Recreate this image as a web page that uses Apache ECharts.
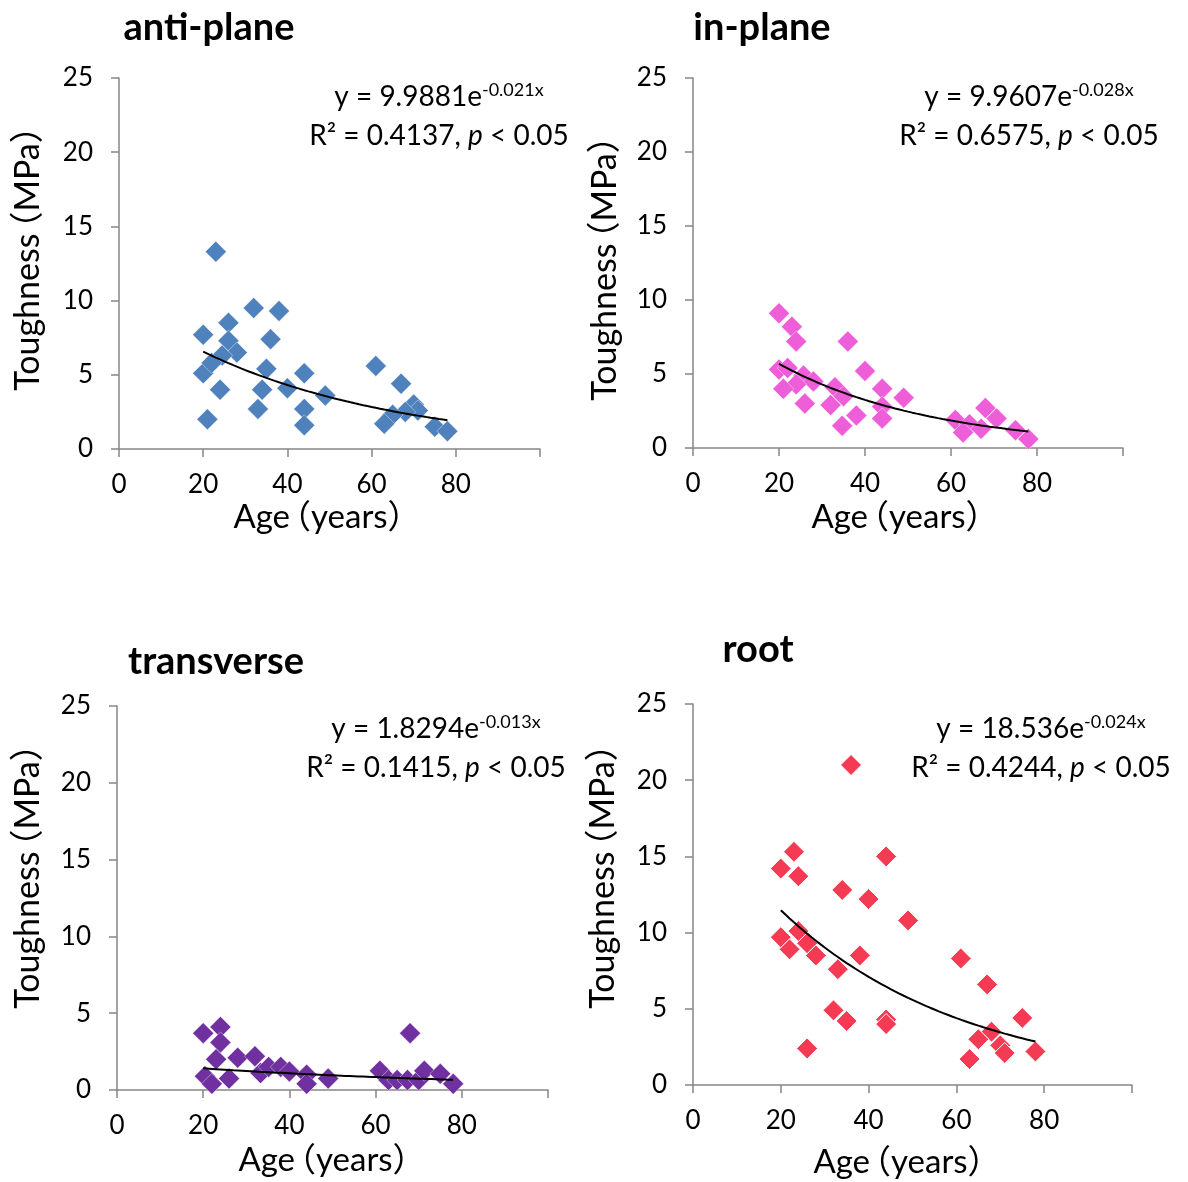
<!DOCTYPE html>
<html>
<head>
<meta charset="utf-8">
<script src="https://cdn.jsdelivr.net/npm/echarts@6/dist/echarts.min.js"></script>
<style>
  html, body { margin: 0; padding: 0; background: #fff; }
  #chart { width: 1188px; height: 1182px; }
</style>
</head>
<body>
<div id="chart"></div>
<script>
// Fracture toughness of dentin versus donor age, four orientations.
var panelTitles = ['anti-plane', 'in-plane', 'transverse', 'root'];
var panelColors = ['#4F81BD', '#EE5ED9', '#7030A0', '#F43B53'];

var antiPlaneAge = [23, 32, 38, 20, 26, 26, 36, 28, 24.5, 20, 22, 35, 44, 61, 67, 24, 34, 40, 49, 33, 44, 21, 44, 70, 71, 68, 65, 63, 75, 78];
var antiPlaneToughness = [13.3, 9.5, 9.3, 7.7, 8.5, 7.3, 7.4, 6.5, 6.3, 5.1, 5.8, 5.4, 5.1, 5.6, 4.4, 4.0, 4.0, 4.1, 3.6, 2.7, 2.7, 2.0, 1.6, 3.0, 2.6, 2.5, 2.3, 1.7, 1.5, 1.2];

var inPlaneAge = [20, 23, 24, 36, 20, 22, 40, 25.7, 28, 24, 21, 33, 35, 32, 26, 44, 49, 44, 38, 44, 34.7, 68, 70.6, 61, 64.3, 67, 62.8, 75, 78];
var inPlaneToughness = [9.1, 8.2, 7.2, 7.2, 5.3, 5.4, 5.2, 4.9, 4.5, 4.3, 4.0, 4.1, 3.5, 2.9, 3.0, 4.0, 3.4, 2.8, 2.2, 2.0, 1.5, 2.7, 2.0, 1.9, 1.6, 1.3, 1.05, 1.2, 0.6];

var transverseAge = [20, 24, 24, 23, 28, 32, 68, 20.4, 22, 26, 33.3, 35.2, 38, 40, 44, 44, 49, 61, 63, 65, 67.4, 70, 71.3, 75, 78];
var transverseToughness = [3.7, 4.1, 3.1, 2.0, 2.1, 2.2, 3.7, 0.9, 0.4, 0.75, 1.1, 1.5, 1.5, 1.2, 1.0, 0.4, 0.75, 1.25, 0.65, 0.65, 0.65, 0.65, 1.25, 1.05, 0.4];

var rootAge = [36, 23, 44, 20, 24, 34, 40, 49, 20, 24, 22, 26, 28, 38, 33, 61, 67, 32, 35, 44, 44, 75, 68, 65, 70, 71, 78, 26, 63];
var rootToughness = [21.0, 15.3, 15.0, 14.2, 13.7, 12.8, 12.2, 10.8, 9.7, 10.1, 8.9, 9.3, 8.5, 8.5, 7.6, 8.3, 6.6, 4.9, 4.2, 4.3, 4.0, 4.4, 3.5, 3.0, 2.6, 2.1, 2.2, 2.4, 1.7];

// Exponential fits y = a * exp(b * x), as printed on each panel
var fitA = [9.9881, 9.9607, 1.8294, 18.536];
var fitB = [-0.021, -0.028, -0.013, -0.024];
var fitR2 = ['0.4137', '0.6575', '0.1415', '0.4244'];
var fitAgeRange = [20, 78];

var xTickLabels = [0, 20, 40, 60, 80];

var ages = [antiPlaneAge, inPlaneAge, transverseAge, rootAge];
var tough = [antiPlaneToughness, inPlaneToughness, transverseToughness, rootToughness];

var FONT = 'Lato, "Noto Sans CJK SC", sans-serif';
var AXIS_GREY = '#868686';

var grids = [
  { left: 119, top: 78, width: 421, height: 371 },
  { left: 693, top: 78, width: 430, height: 370 },
  { left: 117, top: 706, width: 431, height: 384 },
  { left: 693, top: 704, width: 439, height: 381 }
];
// panel-level text anchors
var titlePos = [[209, 28], [762, 28], [216, 662], [758, 650]];
var yNamePos = [[28, 250], [605, 260], [28, 868], [603, 868]];
var xNamePos = [[327, 517], [905, 517], [332, 1160], [907, 1162]];
var eqPos = [[439, 97], [1029, 97], [436, 729], [1041, 729]];

function fitCurve(i) {
  var pts = [];
  for (var x = fitAgeRange[0]; x <= fitAgeRange[1]; x += 1) {
    pts.push([x, fitA[i] * Math.exp(fitB[i] * x)]);
  }
  return pts;
}

// axis title; the full-width opening bracket is pulled in towards the word before it
function axisTitle(word, inner, size) {
  var pull = -Math.round(size * 0.35);
  return {
    text: '{w|' + word + '}{p|（}{w|' + inner + '）}',
    align: 'center', verticalAlign: 'middle',
    rich: {
      w: { fontSize: size, fontFamily: FONT, color: '#000' },
      p: { fontSize: size, fontFamily: FONT, color: '#000', padding: [0, 0, 0, pull] }
    }
  };
}

var option = {
  animation: false,
  backgroundColor: '#fff',
  grid: grids,
  xAxis: [],
  yAxis: [],
  series: [],
  graphic: []
};

for (var i = 0; i < 4; i++) {
  option.xAxis.push({
    gridIndex: i, type: 'value', min: 0, max: 100, interval: 20,
    splitLine: { show: false },
    axisLine: { lineStyle: { color: AXIS_GREY, width: 1.5 } },
    axisTick: { show: true, length: 8, lineStyle: { color: AXIS_GREY, width: 1.5 } },
    axisLabel: {
      color: '#000', fontSize: 26, fontFamily: FONT, margin: 23,
      customValues: xTickLabels
    }
  });
  option.yAxis.push({
    gridIndex: i, type: 'value', min: 0, max: 25, interval: 5,
    splitLine: { show: false },
    axisLine: { show: true, lineStyle: { color: AXIS_GREY, width: 1.5 } },
    axisTick: { show: true, length: 8, lineStyle: { color: AXIS_GREY, width: 1.5 } },
    axisLabel: { color: '#000', fontSize: 26, fontFamily: FONT, margin: 26 }
  });

  var pts = ages[i].map(function (a, k) { return [a, tough[i][k]]; });
  option.series.push({
    type: 'scatter', xAxisIndex: i, yAxisIndex: i,
    symbol: 'diamond', symbolSize: 21,
    itemStyle: { color: panelColors[i], borderColor: '#fff', borderWidth: i === 3 ? 1 : 0.4, opacity: 1 },
    data: pts, z: 2
  });
  option.series.push({
    type: 'line', xAxisIndex: i, yAxisIndex: i,
    showSymbol: false, smooth: false,
    lineStyle: { color: '#000', width: 2 },
    data: fitCurve(i), z: 3
  });

  option.graphic.push({
    type: 'text', x: titlePos[i][0], y: titlePos[i][1],
    style: { text: panelTitles[i], font: 'bold 38px ' + FONT, fill: '#000', align: 'center', verticalAlign: 'middle' }
  });
  option.graphic.push({
    type: 'text', x: yNamePos[i][0], y: yNamePos[i][1], rotation: Math.PI / 2,
    style: axisTitle('Toughness', 'MPa', 34)
  });
  option.graphic.push({
    type: 'text', x: xNamePos[i][0], y: xNamePos[i][1],
    style: axisTitle('Age', 'years', 33)
  });
  var expTxt = (fitB[i] < 0 ? '-' : '') + Math.abs(fitB[i]).toFixed(3) + 'x';
  option.graphic.push({
    type: 'text', x: eqPos[i][0], y: eqPos[i][1],
    style: {
      text: '{n|y = ' + fitA[i] + 'e}{s|' + expTxt + '}',
      align: 'center', verticalAlign: 'middle',
      rich: {
        n: { fontSize: 28, fontFamily: FONT, color: '#000', lineHeight: 32 },
        s: { fontSize: 18, fontFamily: FONT, color: '#000', verticalAlign: 'top', lineHeight: 32, padding: [0, 0, 14, 0] }
      }
    }
  });
  option.graphic.push({
    type: 'text', x: eqPos[i][0], y: eqPos[i][1] + 39,
    style: {
      text: '{n|R² = ' + fitR2[i] + ', }{it|p}{n| < 0.05}',
      align: 'center', verticalAlign: 'middle',
      rich: {
        n: { fontSize: 28, fontFamily: FONT, color: '#000' },
        it: { fontSize: 28, fontFamily: FONT, color: '#000', fontStyle: 'italic' }
      }
    }
  });
}

var chart = echarts.init(document.getElementById('chart'), null, { renderer: 'canvas' });
chart.setOption(option);
</script>
</body>
</html>
